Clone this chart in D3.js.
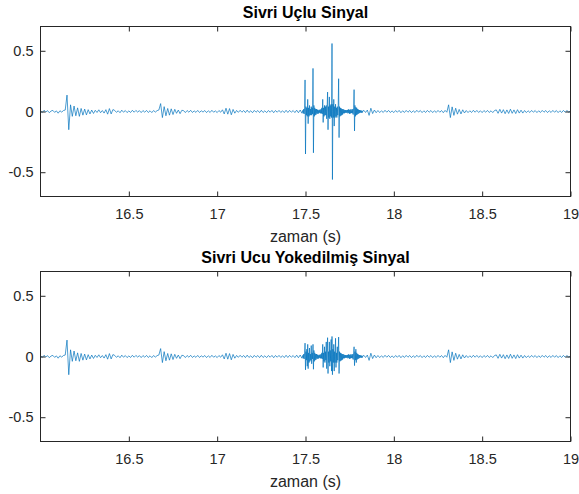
<!DOCTYPE html>
<html><head><meta charset="utf-8">
<script src="https://cdn.jsdelivr.net/npm/d3@7"></script>
<style>
body{margin:0;background:#fff}
svg{display:block}
text{font-family:"Liberation Sans",Arial,Helvetica,sans-serif}
</style>
</head><body>
<svg id="c" width="579" height="494"></svg>
<script>
// Shared segments (identical in both signals), sampled every 0.01 s
const beforeStart = 16.00, beforeStep = 0.01;
const baseBefore = [
0.006,-0.008,0.01,-0.004,0.007,-0.01,0.004,0.009,-0.007,0.005,-0.014,0.006,-0.005,0.008,
0.012,0.135,-0.15,
0.055,-0.04,0.045,-0.035,0.03,-0.04,0.025,-0.03,0.02,-0.028,0.015,-0.02,0.012,-0.016,
0.01,-0.008,0.014,-0.01,0.008,-0.013,0.015,
-0.022,0.024,-0.02,0.016,
0.009,-0.007,0.006,-0.01,0.011,-0.006,0.008,-0.009,0.005,-0.008,0.01,-0.006,0.009,-0.005,0.007,-0.009,0.008,-0.006,0.009,-0.008,0.006,-0.009,0.008,-0.005,0.007,
0.012,
0.065,-0.05,0.04,-0.035,0.025,-0.03,0.022,-0.025,0.018,-0.015,0.012,-0.018,0.01,
0.007,-0.009,0.008,-0.006,0.01,-0.008,0.005,-0.007,0.009,-0.008,0.006,-0.005,0.008,-0.009,0.006,-0.008,0.01,-0.006,0.005,-0.009,0.008,-0.006,
0.014,-0.02,0.027,-0.022,0.024,-0.027,0.017,-0.014,
0.009,-0.007,0.01,-0.006,0.008,-0.009,0.011,-0.008,0.006,-0.01,0.009,-0.006,0.008,-0.009,0.01,-0.008,0.006,-0.009,0.008,-0.006,0.009,-0.01,0.008,-0.006,0.009,-0.008,0.006,-0.009,0.01,-0.008,0.009,-0.006,0.008,-0.009,0.011,-0.01,0.012,-0.014
];
const afterStart = 17.83, afterStep = 0.01;
const baseAfter = [
0.01,-0.008,0.012,-0.032,0.027,-0.017,0.012,-0.01,
0.008,-0.009,0.006,-0.008,0.01,-0.006,0.009,-0.008,0.005,-0.009,0.008,-0.006,0.009,-0.01,0.006,-0.008,0.009,-0.006,0.008,-0.009,0.006,-0.008,0.01,-0.005,0.008,-0.009,0.006,-0.008,0.009,-0.006,0.008,-0.009,0.006,-0.008,0.009,-0.006,0.008,-0.01,0.009,-0.006,
0.055,-0.05,0.038,-0.032,0.027,-0.022,0.017,-0.02,0.014,-0.012,
0.008,-0.009,0.006,-0.008,0.01,-0.006,0.009,-0.008,0.006,-0.009,0.008,-0.006,0.009,-0.008,0.006,-0.009,0.008,
0.013,-0.015,0.018,-0.013,0.015,-0.018,0.013,-0.016,0.019,-0.015,0.013,-0.017,0.015,-0.013,0.011,-0.013,
0.008,-0.009,0.006,-0.008,0.009,-0.006,0.008,-0.009,0.006,-0.008,0.009,-0.006,0.008,-0.009,0.006,-0.008,0.009,-0.006,0.008,-0.009,0.006,-0.008,0.009,-0.006,0.008,-0.005,0.004
];
// Burst segment, sampled every 0.0025 s
const burstStart = 17.485, burstStep = 0.0025;
const sharpBurst = [
0.01,-0.015,0.02,-0.02,0.03,
0.26,-0.35,
0.04,-0.03,0.03,-0.04,0.1,-0.1,0.03,-0.04,0.05,-0.03,0.02,-0.03,0.04,-0.03,0.03,-0.02,
0.355,-0.34,
0.05,-0.04,0.03,-0.03,0.02,-0.025,0.02,-0.015,0.015,-0.02,0.01,-0.015,0.015,-0.01,0.012,-0.015,0.02,-0.015,0.03,-0.02,
0.1,-0.09,
0.03,-0.04,0.05,-0.03,0.04,-0.03,0.05,-0.06,0.04,
0.16,-0.15,
0.04,-0.05,0.12,-0.06,0.05,-0.04,0.06,-0.05,
0.56,-0.56,
0.06,-0.05,0.1,-0.12,0.04,-0.05,0.06,-0.04,0.03,-0.05,0.04,-0.03,0.03,
0.27,-0.215,
0.04,-0.04,0.03,-0.035,0.025,-0.03,0.02,-0.025,0.02,-0.015,0.015,-0.015,0.012,-0.01,0.012,-0.012,0.01,-0.008,0.012,-0.015,0.018,-0.012,0.015,-0.02,0.012,-0.015,0.02,-0.012,0.01,-0.015,0.02,-0.025,0.03,
0.18,-0.16,
0.05,-0.04,0.035,-0.03,0.03,-0.025,0.02,-0.02,0.015,-0.015,0.012,-0.012,0.01,-0.008,0.008,-0.01,0.006,-0.008,0.005
];
const cleanBurst = [
0.01,-0.015,0.02,-0.02,0.03,
0.11,-0.11,
0.04,-0.03,0.06,-0.08,0.1,-0.1,0.03,-0.05,0.07,-0.04,0.02,-0.03,0.09,-0.06,0.03,-0.02,
0.1,-0.105,
0.05,-0.04,0.03,-0.03,0.02,-0.025,0.02,-0.015,0.015,-0.02,0.01,-0.015,0.015,-0.01,0.012,-0.015,0.02,-0.015,0.03,-0.02,
0.1,-0.09,
0.03,-0.04,0.08,-0.05,0.04,-0.03,0.12,-0.1,0.04,
0.155,-0.14,
0.04,-0.05,0.12,-0.08,0.05,-0.04,0.14,-0.12,
0.165,-0.15,
0.06,-0.05,0.1,-0.12,0.04,-0.05,0.15,-0.09,0.03,-0.05,0.08,-0.03,0.03,
0.16,-0.14,
0.04,-0.04,0.03,-0.035,0.025,-0.03,0.02,-0.025,0.02,-0.015,0.015,-0.015,0.012,-0.01,0.012,-0.012,0.01,-0.008,0.012,-0.015,0.018,-0.012,0.015,-0.02,0.012,-0.015,0.02,-0.012,0.01,-0.015,0.02,-0.025,0.03,
0.08,-0.075,
0.04,-0.03,0.06,-0.05,0.03,-0.025,0.02,-0.02,0.015,-0.015,0.012,-0.012,0.01,-0.008,0.008,-0.01,0.006,-0.008,0.005
];
const xTicks = [16.5, 17, 17.5, 18, 18.5, 19];
const yTicks = [-0.5, 0, 0.5];
const panelTitles = ["Sivri Uçlu Sinyal", "Sivri Ucu Yokedilmiş Sinyal"];
const xLabelText = "zaman (s)";
const xDomain = [16.0, 19.0];
const yDomain = [-0.7, 0.7];

function buildSeries(burst) {
  const pts = [];
  baseBefore.forEach((v, i) => pts.push([beforeStart + i * beforeStep, v]));
  burst.forEach((v, i) => pts.push([burstStart + i * burstStep, v]));
  baseAfter.forEach((v, i) => pts.push([afterStart + i * afterStep, v]));
  return pts;
}
const series = [buildSeries(sharpBurst), buildSeries(cleanBurst)];

const svg = d3.select("#c");
const L = 40.5, R = 570.5, H = 170;
const tops = [26.5, 271.5];
const axisColor = "#262626";
const lineColor = "#0072BD";

const x = d3.scaleLinear().domain(xDomain).range([L, R]);

series.forEach((sig, k) => {
  const top = tops[k], bot = top + H;
  const y = d3.scaleLinear().domain(yDomain).range([bot, top]);
  const g = svg.append("g");

  const cid = "clip" + k;
  svg.append("clipPath").attr("id", cid).append("rect")
    .attr("x", L).attr("y", top).attr("width", R - L).attr("height", H);

  const line = d3.line().x(d => x(d[0])).y(d => y(d[1]));
  g.append("path").datum(sig)
    .attr("clip-path", `url(#${cid})`)
    .attr("fill", "none").attr("stroke", lineColor)
    .attr("stroke-width", 0.7).attr("stroke-linejoin", "round")
    .attr("d", line);

  const styleAxis = sel => {
    sel.select(".domain").remove();
    sel.selectAll("line").attr("stroke", axisColor);
    sel.selectAll("text").attr("fill", axisColor).style("font-size", "14.5px")
      .style("font-family", '"Liberation Sans",Arial,Helvetica,sans-serif');
  };

  g.append("g").attr("transform", `translate(0,${bot})`)
    .call(d3.axisBottom(x).tickValues(xTicks).tickSizeInner(-5).tickSizeOuter(0).tickPadding(12).tickFormat(d3.format("")))
    .call(styleAxis);
  g.append("g").attr("transform", `translate(0,${top})`)
    .call(d3.axisTop(x).tickValues(xTicks).tickSizeInner(-5).tickSizeOuter(0).tickFormat(""))
    .call(styleAxis);
  g.append("g").attr("transform", `translate(${L},0)`)
    .call(d3.axisLeft(y).tickValues(yTicks).tickSizeInner(-5).tickSizeOuter(0).tickPadding(7).tickFormat(d => d3.format("")(d).replace("−", "-")))
    .call(styleAxis);
  g.append("g").attr("transform", `translate(${R},0)`)
    .call(d3.axisRight(y).tickValues(yTicks).tickSizeInner(-5).tickSizeOuter(0).tickFormat(""))
    .call(styleAxis);

  g.append("rect").attr("x", L).attr("y", top).attr("width", R - L).attr("height", H)
    .attr("fill", "none").attr("stroke", axisColor).attr("stroke-width", 1);

  g.append("text").attr("x", (L + R) / 2).attr("y", top - 9)
    .attr("text-anchor", "middle").attr("fill", "#000")
    .style("font-size", "16px").style("font-weight", "bold")
    .text(panelTitles[k]);

  g.append("text").attr("x", (L + R) / 2).attr("y", bot + 45)
    .attr("text-anchor", "middle").attr("fill", axisColor)
    .style("font-size", "16px")
    .text(xLabelText);
});
</script>
</body></html>
